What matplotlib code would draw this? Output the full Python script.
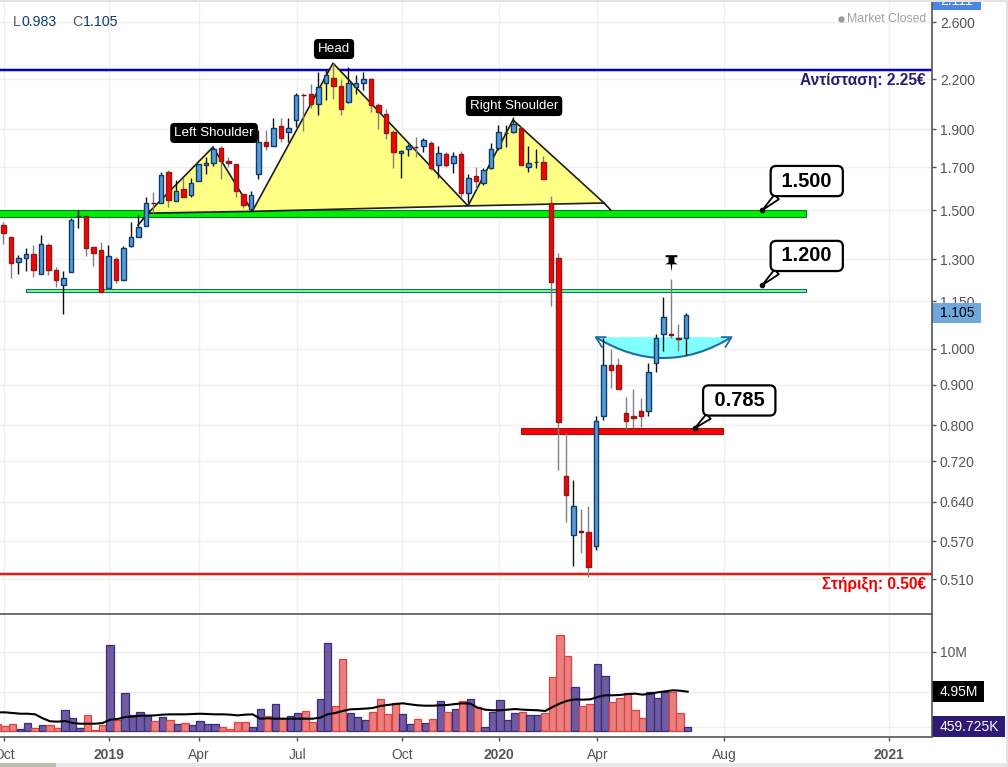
from __future__ import annotations

import matplotlib.pyplot as plt
from matplotlib.patches import PathPatch, Polygon, Rectangle
from matplotlib.path import Path

plt.rcParams["font.family"] = ["Liberation Sans", "DejaVu Sans"]

# weekly candles, one entry per week starting Oct 2018
opens = [1.436, 1.386, 1.291, 1.304, 1.318, 1.244, 1.353, 1.259, 1.204, 1.252, 1.474, 1.475, 1.346, 1.334, 1.194, 1.299,
         1.222, 1.350, 1.386, 1.434, 1.533, 1.533, 1.676, 1.542, 1.594, 1.569, 1.635, 1.712, 1.724, 1.797, 1.734, 1.715,
         1.572, 1.506, 1.666, 1.830, 1.812, 1.916, 1.883, 1.950, 2.103, 2.104, 2.044, 2.174, 2.206, 2.156, 2.056, 2.149,
         2.174, 2.199, 2.040, 1.985, 1.884, 1.774, 1.792, 1.807, 1.808, 1.824, 1.714, 1.766, 1.724, 1.766, 1.576, 1.656,
         1.622, 1.695, 1.797, 1.878, 1.884, 1.905, 1.703, 1.725, 1.729, 1.533, 1.304, 0.690, 0.581, 0.587, 0.586, 0.562,
         0.822, 0.953, 0.953, 0.828, 0.821, 0.833, 0.833, 0.959, 1.044, 1.043, 1.032, 1.033]
highs = [1.451, 1.386, 1.316, 1.342, 1.355, 1.395, 1.363, 1.272, 1.254, 1.465, 1.501, 1.475, 1.346, 1.367, 1.355, 1.310,
         1.351, 1.451, 1.479, 1.557, 1.580, 1.677, 1.687, 1.638, 1.648, 1.647, 1.719, 1.750, 1.801, 1.810, 1.750, 1.716,
         1.573, 1.586, 1.897, 1.897, 1.962, 1.962, 1.962, 2.111, 2.111, 2.169, 2.245, 2.260, 2.308, 2.199, 2.280, 2.228,
         2.245, 2.206, 2.052, 2.014, 1.897, 1.788, 1.821, 1.857, 1.851, 1.835, 1.808, 1.776, 1.776, 1.786, 1.666, 1.700,
         1.695, 1.824, 1.924, 1.922, 1.971, 1.918, 1.810, 1.793, 1.757, 1.564, 1.322, 0.781, 0.681, 0.626, 0.631, 0.822,
         1.033, 1.001, 0.973, 0.869, 0.889, 0.866, 0.960, 1.044, 1.163, 1.227, 1.074, 1.112]
lows = [1.359, 1.230, 1.244, 1.254, 1.234, 1.244, 1.242, 1.199, 1.109, 1.252, 1.425, 1.313, 1.276, 1.182, 1.194, 1.211,
        1.222, 1.348, 1.386, 1.434, 1.488, 1.533, 1.515, 1.542, 1.560, 1.557, 1.635, 1.667, 1.706, 1.641, 1.703, 1.560,
        1.508, 1.505, 1.641, 1.788, 1.812, 1.833, 1.833, 1.914, 1.893, 2.020, 1.982, 2.071, 2.077, 1.982, 2.054, 2.107,
        2.131, 2.000, 1.900, 1.849, 1.698, 1.649, 1.758, 1.753, 1.779, 1.687, 1.649, 1.703, 1.671, 1.560, 1.530, 1.598,
        1.616, 1.690, 1.788, 1.806, 1.879, 1.714, 1.678, 1.698, 1.641, 1.135, 0.701, 0.603, 0.530, 0.551, 0.514, 0.555,
        0.812, 0.893, 0.890, 0.791, 0.794, 0.795, 0.822, 0.935, 0.995, 1.033, 0.994, 0.983]
closes = [1.402, 1.285, 1.304, 1.318, 1.259, 1.358, 1.259, 1.222, 1.230, 1.457, 1.475, 1.342, 1.322, 1.182, 1.312, 1.222,
          1.342, 1.386, 1.427, 1.533, 1.532, 1.661, 1.546, 1.585, 1.560, 1.622, 1.716, 1.724, 1.792, 1.732, 1.722, 1.588,
          1.525, 1.567, 1.830, 1.812, 1.905, 1.854, 1.905, 2.099, 2.102, 2.044, 2.152, 2.226, 2.156, 2.014, 2.174, 2.174,
          2.199, 2.040, 1.997, 1.879, 1.776, 1.786, 1.808, 1.805, 1.840, 1.698, 1.771, 1.714, 1.760, 1.576, 1.646, 1.636,
          1.685, 1.792, 1.884, 1.880, 1.928, 1.714, 1.724, 1.727, 1.641, 1.215, 0.807, 0.653, 0.632, 0.585, 0.528, 0.809,
          0.953, 0.939, 0.890, 0.811, 0.816, 0.821, 0.934, 1.031, 1.097, 1.041, 1.030, 1.105]

# volume in millions; first entry is the partly hidden week before the first candle
volumes = [0.92, 0.67, 0.92, 0.29, 1.05, 0.42, 0.80, 0.80, 0.42, 2.69, 1.68, 0.42, 2.06, 0.17, 0.80, 10.88, 1.43, 4.83,
           2.06, 2.44, 2.06, 1.30, 1.81, 1.43, 0.92, 1.05, 0.80, 1.30, 0.92, 0.92, 0.55, 0.29, 1.18, 1.18, 0.55, 2.82,
           1.93, 3.45, 1.68, 1.93, 2.31, 2.56, 1.18, 4.08, 11.13, 3.19, 9.12, 2.31, 1.81, 1.43, 2.44, 4.08, 2.18, 3.57,
           2.18, 0.92, 1.55, 1.05, 1.55, 3.82, 2.44, 2.82, 3.82, 4.08, 3.07, 0.55, 2.44, 3.95, 1.43, 2.31, 2.44, 2.06,
           2.06, 2.31, 6.85, 12.14, 9.50, 5.59, 3.19, 3.45, 8.49, 6.97, 3.70, 4.20, 4.83, 2.69, 1.68, 4.96, 4.20, 4.96,
           4.96, 2.31, 0.46]
volume_avg = [2.35, 2.35, 2.27, 2.18, 2.18, 2.10, 1.60, 1.22, 1.18, 1.26, 1.01, 0.92, 0.92, 0.92, 1.01, 1.43, 1.51, 1.76,
              1.81, 1.93, 1.93, 1.97, 2.06, 2.10, 2.10, 2.10, 2.14, 2.18, 2.14, 2.10, 2.10, 2.06, 1.97, 2.06, 2.10, 1.55,
              1.60, 1.55, 1.55, 1.55, 1.55, 1.55, 1.55, 1.68, 2.10, 2.27, 2.52, 2.73, 2.77, 2.82, 2.90, 3.15, 3.28, 3.40,
              3.49, 3.36, 3.24, 3.19, 3.19, 3.24, 3.28, 3.40, 3.49, 3.45, 2.94, 2.69, 2.61, 2.61, 2.69, 2.77, 2.69, 2.65,
              2.61, 2.52, 3.03, 3.49, 3.82, 3.99, 3.95, 3.99, 4.29, 4.50, 4.50, 4.54, 4.66, 4.71, 4.58, 4.71, 4.87, 5.00,
              5.13, 5.08, 4.95]

price_ticks = [2.6, 2.2, 1.9, 1.7, 1.5, 1.3, 1.15, 1.0, 0.9, 0.8, 0.72, 0.64, 0.57, 0.51]
time_ticks = [0.13, 14.13, 26.13, 39.2, 53.2, 66.13, 79.2, 96.16, 118.1]
time_labels = ["Oct", "2019", "Apr", "Jul", "Oct", "2020", "Apr", "Aug", "2021"]

# head and shoulders outline (week, price)
left_shoulder = [(19.3, 1.487), (27.96, 1.804), (33.2, 1.495)]
head = [(33.2, 1.495), (43.96, 2.306), (61.96, 1.519)]
right_shoulder = [(61.96, 1.519), (67.96, 1.953), (80.1, 1.532)]
neckline_tail = [(80.1, 1.532), (81.0, 1.500)]
lead_in = [(17.96, 1.436), (19.3, 1.487)]

WIDTH, HEIGHT = 1008, 767
PLOT_RIGHT = 931.5
BLUE = "#5b9bd5"
NAVY = "#0b3c6f"
PURPLE = "#2e1a75"
GREY = "#555555"


def axes_rect(top: float, bottom: float) -> list[float]:
    return [0, 1 - bottom / HEIGHT, PLOT_RIGHT / WIDTH, (bottom - top) / HEIGHT]


def add_frame(fig) -> None:
    boxes = [
        (0, 763, 1008, 4, "#e6e6e6"),
        (0, 763, 56, 4, "#b9c0ad"),
        (1006, 0, 2, 767, "#e2e2e8"),
        (0, 0, 1008, 1.5, "#e2e2e8"),
    ]
    for x, y, w, h, color in boxes:
        fig.add_artist(Rectangle((x / WIDTH, 1 - (y + h) / HEIGHT), w / WIDTH, h / HEIGHT,
                                 transform=fig.transFigure, facecolor=color, edgecolor="none"))


def value_box(ax, lo: float, hi: float, width_px: float, color: str) -> None:
    ax.add_patch(Rectangle((1, lo), width_px / PLOT_RIGHT, hi - lo, transform=ax.get_yaxis_transform(),
                           facecolor=color, edgecolor="none", clip_on=False, zorder=1))


def draw_levels(ax) -> None:
    ax.axhline(2.26, color="#0000cc", lw=1.6, zorder=2)
    ax.axhline(2.26, color="#9999ff", lw=2.6, alpha=0.5, zorder=1.9)
    ax.axhline(0.5175, color="#ee1111", lw=1.4, zorder=2)
    ax.axhline(0.5175, color="#ff8888", lw=2.6, alpha=0.6, zorder=1.9)
    zones = [
        (-1, 107, 1.471, 1.500, "#00ee00", "#007a33"),
        (3.03, 107, 1.180, 1.193, "#80ff80", "#0f6e78"),
        (69, 96, 0.780, 0.7926, "#ff0000", "#8b1a1a"),
    ]
    for x0, x1, lo, hi, fill, edge in zones:
        ax.add_patch(Rectangle((x0, lo), x1 - x0, hi - lo, facecolor=fill, edgecolor=edge, lw=0.8, zorder=2))
    ax.text(123, 2.193, "Αντίσταση: 2.25€", color=PURPLE, fontsize=11.2, fontweight="bold",
            ha="right", va="center", zorder=6)
    ax.text(123, 0.5027, "Στήριξη: 0.50€", color="#ee0000", fontsize=11.2, fontweight="bold",
            ha="right", va="center", zorder=6)


def draw_patterns(ax) -> None:
    for points in (left_shoulder, head, right_shoulder):
        ax.add_patch(Polygon(points, closed=True, facecolor="#ffff80", edgecolor="#111111", lw=1.2,
                             alpha=0.95, zorder=3))
    for points in (neckline_tail, lead_in):
        ax.plot(*zip(*points), color="#111111", lw=1.2, zorder=3)

    labels = [(44.1, 2.403, "Head"), (28.1, 1.880, "Left Shoulder"), (68.1, 2.034, "Right Shoulder")]
    for x, y, text in labels:
        ax.text(x, y, text, color="white", fontsize=9.6, ha="center", va="center", zorder=7,
                bbox=dict(boxstyle="round,pad=0.25", facecolor="black", edgecolor="black"))

    # cup shape
    verts = [(79, 1.035), (88.05, 0.916), (97.1, 1.035), (79, 1.035)]
    codes = [Path.MOVETO, Path.CURVE3, Path.CURVE3, Path.LINETO]
    ax.add_patch(PathPatch(Path(verts, codes), facecolor="#80ffff", edgecolor="none", zorder=3))
    ax.add_patch(PathPatch(Path(verts[:3], codes[:3]), facecolor="none", edgecolor="#1c6ea4", lw=1.5, zorder=3.1))
    ax.plot([80.3, 79, 79.8], [1.035, 1.035, 1.006], color="#1c6ea4", lw=1.3, zorder=3.1)
    ax.plot([95.8, 97.1, 96.3], [1.035, 1.035, 1.006], color="#1c6ea4", lw=1.3, zorder=3.1)


def draw_candles(ax) -> None:
    for i, (o, h, l, c) in enumerate(zip(opens, highs, lows, closes)):
        up = c >= o
        ax.vlines(i, l, h, color="#111111" if up else "#808080", lw=1.0, zorder=4)
        is_doji = abs(c - o) < 0.004
        if is_doji:
            edge = NAVY if up else "#7a1010"
        else:
            edge = NAVY if up else "#8b1a1a"
        ax.bar(i, abs(c - o), bottom=min(o, c), width=0.6, color=BLUE if up else "#ff0000",
               edgecolor=edge, linewidth=1.0, zorder=5)


def draw_callouts(ax) -> None:
    callouts = [
        (101.2, 1.5, "1.500", 32, 21),
        (101.2, 1.205, "1.200", 32, 21),
        (92.2, 0.793, "0.785", 32, 20),
    ]
    for x, y, text, dx, dy in callouts:
        ax.annotate(
            f" {text} ", xy=(x, y), xytext=(dx, dy), textcoords="offset points", fontsize=14.4,
            fontweight="bold", ha="center", va="center", zorder=8,
            bbox=dict(boxstyle="round,pad=0.28", facecolor="white", edgecolor="black", lw=1.6),
            arrowprops=dict(arrowstyle="wedge,tail_width=0.32,shrink_factor=0.5", facecolor="white",
                            edgecolor="black", lw=1.3, relpos=(0.12, 0.0), shrinkA=0, shrinkB=0),
        )
        ax.plot([x], [y], "o", color="black", ms=3, zorder=8)


def draw_pin(ax) -> None:
    pin = Path(
        [(-0.7, 1), (0.7, 1), (0.7, 0.75), (0.35, 0.75), (0.35, 0.15), (0.75, -0.1), (0.1, -0.1), (0, -1),
         (-0.1, -0.1), (-0.75, -0.1), (-0.35, 0.15), (-0.35, 0.75), (-0.7, 0.75), (-0.7, 1)]
    )
    ax.plot([89], [highs[89] * 1.048], marker=pin, ms=12, color="black", mec="none", zorder=8, clip_on=False)


def draw_price_panel(ax) -> None:
    ax.set_yscale("log")
    ax.set_xlim(-0.44, 123.76)
    ax.set_ylim(0.4607, 2.757)
    ax.set_yticks(price_ticks)
    ax.set_yticklabels([f"{t:.3f}" for t in price_ticks])
    ax.minorticks_off()
    ax.set_xticks(time_ticks)
    ax.tick_params(axis="x", length=0, labelbottom=False)
    ax.tick_params(axis="y", right=True, left=False, labelright=True, labelleft=False, length=3,
                   width=1, color=GREY, labelcolor=GREY, labelsize=10, pad=3)
    ax.grid(True, color="#f0f0f0", lw=1, zorder=0)
    ax.set_axisbelow(True)
    for side in ("left", "top", "bottom"):
        ax.spines[side].set_visible(False)
    ax.spines["right"].set_color(GREY)
    ax.spines["right"].set_linewidth(1.2)

    draw_levels(ax)
    draw_patterns(ax)
    draw_candles(ax)
    draw_callouts(ax)
    draw_pin(ax)

    value_box(ax, 1.078, 1.143, 49, "#6fa8dc")
    ax.annotate("1.105", xy=(1, 1.11), xycoords=ax.get_yaxis_transform(), xytext=(6, 0),
                textcoords="offset points", fontsize=10, color="black", va="center", zorder=9)
    value_box(ax, 2.695, 2.79, 49, "#4a86e8")
    ax.annotate("2.111", xy=(1, 2.765), xycoords=ax.get_yaxis_transform(), xytext=(6, 0),
                textcoords="offset points", fontsize=10, color="white", va="center", zorder=9,
                annotation_clip=False)

    ax.text(0.0134, 0.9675, "L", transform=ax.transAxes, color=GREY, fontsize=10.2, va="center")
    ax.text(0.0236, 0.9675, "0.983", transform=ax.transAxes, color=NAVY, fontsize=10.2, va="center")
    ax.text(0.0772, 0.9675, "C", transform=ax.transAxes, color=GREY, fontsize=10.2, va="center")
    ax.text(0.0891, 0.9675, "1.105", transform=ax.transAxes, color=NAVY, fontsize=10.2, va="center")
    ax.text(0.9945, 0.972, "Market Closed", transform=ax.transAxes, color="#a0a0a0", fontsize=8.8,
            ha="right", va="center")
    ax.plot([0.9025], [0.972], "o", transform=ax.transAxes, color="#999999", ms=3.6)


def draw_volume_panel(ax) -> None:
    ax.set_xlim(-0.44, 123.76)
    ax.set_ylim(-0.757, 14.75)
    for i, volume in enumerate(volumes):
        week = i - 1
        if week < 0:
            up = False
        else:
            up = closes[week] >= opens[week]
        ax.bar(week + 0.25, volume, width=0.98, color="#6f5ca0" if up else "#e88080",
               edgecolor="#3a2a80" if up else "#e04040", linewidth=0.9, zorder=3)
    ax.plot([i - 1 + 0.25 for i in range(len(volume_avg))], volume_avg, color="black", lw=1.5, zorder=4)

    ax.set_xticks(time_ticks)
    ax.set_xticklabels(time_labels)
    for tick in ax.get_xticklabels():
        if tick.get_text() in ("2019", "2020", "2021"):
            tick.set_fontweight("bold")
    ax.tick_params(axis="x", length=3, width=1, color=GREY, labelcolor=GREY, labelsize=10, pad=5)

    ax.set_yticks([10, 4.95, 0.46])
    ax.set_yticklabels(["10M", "", ""])
    ax.tick_params(axis="y", right=True, left=False, labelright=True, labelleft=False, length=3,
                   width=1, color=GREY, labelcolor=GREY, labelsize=10, pad=3)
    ax.grid(True, color="#f0f0f0", lw=1, zorder=0)
    ax.set_axisbelow(True)
    ax.spines["left"].set_visible(False)
    for side in ("top", "bottom", "right"):
        ax.spines[side].set_color(GREY)
        ax.spines[side].set_linewidth(1.2)

    value_box(ax, 3.6, 6.25, 52, "black")
    ax.annotate("4.95M", xy=(1, 4.95), xycoords=ax.get_yaxis_transform(), xytext=(6, 0),
                textcoords="offset points", fontsize=10, color="white", va="center", zorder=9)
    value_box(ax, -0.7, 1.85, 74, PURPLE)
    ax.annotate("459.725K", xy=(1, 0.46), xycoords=ax.get_yaxis_transform(), xytext=(6, 0),
                textcoords="offset points", fontsize=10, color="white", va="center", zorder=9)


def main() -> None:
    fig = plt.figure(figsize=(WIDTH / 100, HEIGHT / 100), dpi=100)
    price_ax = fig.add_axes(axes_rect(2, 614))
    volume_ax = fig.add_axes(axes_rect(614, 737))

    draw_price_panel(price_ax)
    draw_volume_panel(volume_ax)
    add_frame(fig)

    fig.savefig("out.png", dpi=100)
    plt.close(fig)


if __name__ == "__main__":
    main()
